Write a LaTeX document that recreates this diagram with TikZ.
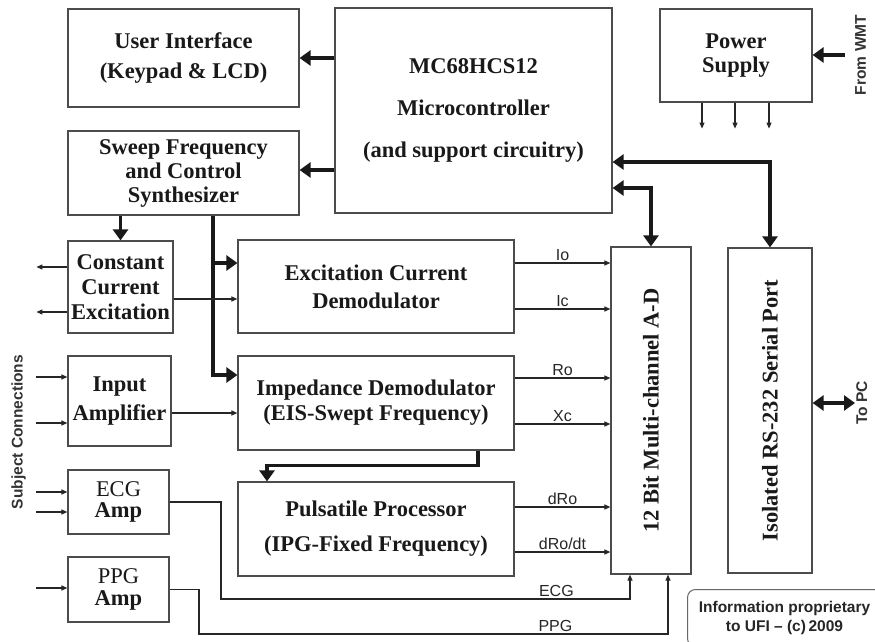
\documentclass[tikz,border=0pt]{standalone}
\usepackage{fontspec}
\setmainfont{Liberation Serif}
\newfontfamily\labelfont{Liberation Sans}
\usetikzlibrary{arrows.meta}

\begin{document}
\begin{tikzpicture}[x=1pt, y=-1pt,
  box/.style={draw=black!70, line width=1.2pt, align=center, inner sep=0pt,
    font=\fontsize{22.5}{24}\selectfont\bfseries, text=black!90},
  vtxt/.style={rotate=90, inner sep=0pt, font=\fontsize{22.5}{24}\selectfont\bfseries, text=black!90},
  sig/.style={font=\labelfont\fontsize{16}{17}\selectfont, text=black!85, inner sep=1.5pt},
  tag/.style={font=\labelfont\fontsize{15.5}{17}\selectfont\bfseries, text=black!80, inner sep=1pt},
  bus/.style={line width=3.4pt, draw=black!90, -{Triangle[length=11pt,width=15pt]}},
  busboth/.style={bus, {Triangle[length=11pt,width=15pt]}-{Triangle[length=11pt,width=15pt]}},
  wire/.style={line width=1.1pt, draw=black!85, -{Triangle[length=6pt,width=5pt]}}
]
  \path[use as bounding box, fill=white] (0,0) rectangle (875,642);

  \node[box, minimum width=231pt, minimum height=98pt] (ui) at (183.5,58) {User Interface\\[6pt](Keypad \& LCD)};
  \node[box, minimum width=231pt, minimum height=84pt] (sweep) at (183.5,173) {Sweep Frequency\\and Control\\Synthesizer};
  \node[box, minimum width=277pt, minimum height=205pt] (mcu) at (473.5,110.5) {MC68HCS12\\[18pt]Microcontroller\\[18pt](and support circuitry)};
  \node[box, minimum width=152pt, minimum height=93pt] (power) at (736,55.5) {Power\\Supply};
  \node[box, minimum width=105pt, minimum height=92pt] (ccx) at (120.5,287) {Constant\\[1pt]Current\\[1pt]Excitation};
  \node[box, minimum width=276pt, minimum height=93pt] (excdem) at (376,286.5) {Excitation Current\\[4pt]Demodulator};
  \node[box, minimum width=103pt, minimum height=90pt] (inamp) at (119.5,401) {Input\\[5pt]Amplifier};
  \node[box, minimum width=276pt, minimum height=94pt] (impdem) at (376,403) {Impedance Demodulator\\[1pt](EIS-Swept Frequency)};
  \node[box, minimum width=101pt, minimum height=64pt] (ecg) at (118.5,502) {{\mdseries ECG}\\[-3pt]Amp};
  \node[box, minimum width=276pt, minimum height=94pt] (puls) at (376,529) {Pulsatile Processor\\[11pt](IPG-Fixed Frequency)};
  \node[box, minimum width=101pt, minimum height=65pt] (ppg) at (118.5,589.5) {{\mdseries PPG}\\[-2pt]Amp};
  \node[box, minimum width=80pt, minimum height=327pt,
        label={[vtxt]center:12 Bit Multi-channel A-D}] (adc) at (651,410.5) {};
  \node[box, minimum width=84pt, minimum height=325pt,
        label={[vtxt]center:Isolated RS-232 Serial Port}] (serial) at (770,410.5) {};

  \node[tag, rotate=90] (subj) at (18.5,432) {Subject Connections};
  \node[tag, rotate=90, anchor=north] (wmt) at (854,55) {From WMT};
  \node[tag, rotate=90, anchor=north] (topc) at (855,403) {To PC};
  \node[draw=black!60, line width=1pt, rounded corners=8pt, anchor=north west,
        minimum width=194pt, minimum height=57pt, align=center, inner sep=0pt,
        font=\labelfont\fontsize{15.5}{19}\selectfont\bfseries, text=black!85] (info) at (687,589)
        {Information proprietary\\to UFI – (c)\,2009};

  % controller buses
  \draw[bus] (mcu.west |- ui.east) -- (ui.east);
  \draw[bus] (mcu.west |- 0,170) -- (sweep.east |- 0,170);
  \draw[busboth] (mcu.east |- 0,162) -| (serial.north);
  \draw[busboth] (mcu.east |- 0,188) -| (adc.north);
  \draw[busboth] (topc.north -| serial.east) -- (topc.north);

  % supply
  \draw[bus, shorten <=9pt] (wmt.north) -- (wmt.north -| power.east);
  \foreach \px in {702,735,769}
    \draw[wire] (power.south -| \px,0) -- ++(0,26);

  % synthesizer drive
  \draw[bus] (sweep.south -| ccx.north) -- (ccx.north);
  \draw[bus] (sweep.south -| 213,0) |- (impdem.west |- 0,375);
  \draw[bus] (sweep.south -| 213,0) |- (excdem.west |- 0,263);
  \draw[bus] (impdem.south -| 478,0) -- ++(0,15) -| (puls.north -| 267,0);

  % subject side
  \draw[wire] (ccx.east |- 0,299) -- (excdem.west |- 0,299);
  \foreach \py in {267,312}
    \draw[wire] (ccx.west |- 0,\py) -- ++(-31,0);
  \foreach \py in {377,423}
    \draw[wire] (inamp.west |- 0,\py) ++(-31,0) -- (inamp.west |- 0,\py);
  \foreach \py in {492,512}
    \draw[wire] (ecg.west |- 0,\py) ++(-31,0) -- (ecg.west |- 0,\py);
  \draw[wire] (ppg.west |- 0,588) ++(-31,0) -- (ppg.west |- 0,588);
  \draw[wire] (inamp.east |- 0,413) -- (impdem.west |- 0,413);

  % channels into the converter
  \draw[wire] (excdem.east |- 0,263) -- node[sig, above] {Io} (adc.west |- 0,263);
  \draw[wire] (excdem.east |- 0,309) -- node[sig, above] {Ic} (adc.west |- 0,309);
  \draw[wire] (impdem.east |- 0,378) -- node[sig, above] {Ro} (adc.west |- 0,378);
  \draw[wire] (impdem.east |- 0,424) -- node[sig, above] {Xc} (adc.west |- 0,424);
  \draw[wire] (puls.east |- 0,507) -- node[sig, above] {dRo} (adc.west |- 0,507);
  \draw[wire] (puls.east |- 0,552) -- node[sig, above] {dRo/dt} (adc.west |- 0,552);
  \draw[wire] (ecg.east) -| (221,599) -| node[sig, above, pos=.41] {ECG} (adc.south -| 630,0);
  \draw[wire] (ppg.east) -| (199,634) -| node[sig, above, pos=.38] {PPG} (adc.south -| 668,0);
\end{tikzpicture}
\end{document}
